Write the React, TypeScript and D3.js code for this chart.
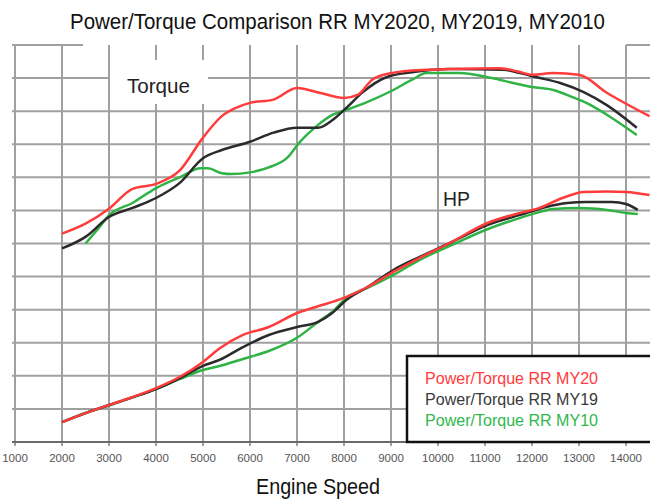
import * as d3 from "d3";
import React, { useRef, useEffect } from "react";

const WIDTH = 650;
const HEIGHT = 502;

// x ticks (rpm)
const rpmTicks = [1000, 2000, 3000, 4000, 5000, 6000, 7000, 8000, 9000, 10000, 11000, 12000, 13000, 14000];

// torque curves [rpm, value]
const torqueMY20 = [
	[2000, 126], [2500, 132], [3000, 141], [3500, 153], [4000, 156], [4500, 164], [5000, 184], [5400, 197],
	[5700, 202], [6000, 205], [6500, 207], [7000, 214], [7500, 211], [8000, 208], [8300, 210], [8600, 219],
	[9000, 223], [9750, 225], [10250, 225.5], [11300, 226], [11700, 224], [12000, 222], [12450, 223],
	[13000, 222], [13600, 211], [14500, 197],
];
const torqueMY19 = [
	[2000, 117], [2500, 124], [3000, 136], [3500, 141.5], [4000, 147.5], [4500, 156.5], [5000, 171.5],
	[5400, 176.5], [6000, 181.5], [6500, 187], [7000, 190], [7450, 190], [7750, 194.5], [8050, 202],
	[8400, 211.5], [8900, 220.5], [9450, 223.5], [10250, 225.5], [11400, 225], [11750, 223], [12100, 220.5],
	[12600, 217], [13100, 211.5], [13600, 203.5], [14230, 190],
];
const torqueMY10 = [
	[2500, 120], [2800, 130], [3000, 137], [3500, 144.5], [4000, 153.5], [4500, 160], [4950, 165.5],
	[5100, 165.5], [5400, 162.5], [5600, 162], [6000, 163], [6400, 166], [6800, 172], [7050, 181],
	[7400, 190.5], [7750, 197.7], [8050, 200.7], [8500, 205.6], [9050, 212.8], [9450, 219], [9750, 223],
	[10450, 223], [11150, 220], [11600, 217], [12000, 214.6], [12450, 212.8], [12850, 208.6], [13250, 203.7],
	[13600, 197.7], [14230, 185.6],
];

// power curves [rpm, value]
const hpMY20 = [
	[2000, 12], [2500, 17.5], [3000, 22.4], [3500, 27.2], [4000, 32.6], [4500, 39.3], [5000, 48.4],
	[5350, 56.5], [5850, 64.7], [6400, 69.5], [7000, 78], [7400, 81.6], [8000, 87.1], [8500, 93.7],
	[9050, 102.8], [9600, 111.2], [10250, 120.3], [11050, 132.4], [11750, 138.5], [12100, 140.9],
	[12650, 147.5], [13100, 151.2], [13600, 151.5], [14000, 151.2], [14500, 149.3],
];
const hpMY19 = [
	[2000, 12], [2500, 17.5], [3000, 22.4], [3500, 27], [4000, 32], [4500, 38.5], [5000, 46], [5350, 49.6],
	[5850, 57.4], [6400, 64.7], [7000, 69.5], [7450, 72.6], [7750, 78], [8050, 85.8], [8500, 93.7],
	[9050, 104], [9600, 111.8], [10250, 120.3], [11050, 131.2], [11750, 137.3], [12300, 142.1],
	[12750, 144.5], [13150, 145.1], [13700, 145.1], [14000, 143.9], [14250, 140.3],
];
const hpMY10 = [
	[2000, 12], [2500, 17.5], [3000, 22], [3500, 27], [4000, 32], [4500, 38], [5000, 43.5], [5350, 45.9],
	[5850, 50.2], [6400, 55], [7000, 63], [7450, 72.6], [7750, 78.6], [8050, 87.1], [8500, 93.1],
	[9050, 101], [9600, 110], [10250, 118.5], [11050, 128.6], [11750, 135.5], [12100, 138.5],
	[12450, 140.9], [13000, 141.5], [13600, 140.3], [14000, 138.5], [14250, 137.9],
];

const legendLabels = ["Power/Torque RR MY20", "Power/Torque RR MY19", "Power/Torque RR MY10"];
const legendColors = ["#ff3b3b", "#3a3a3a", "#2fb84e"];
const lineColors = ["#ff3c3c", "#2b2b2b", "#2fb344"];

const NARROW = "'Liberation Sans Narrow', 'Arial Narrow', 'Liberation Sans', Arial, sans-serif";
const SANS = "'Liberation Sans', Arial, sans-serif";

const App = () => {
	const svgRef = useRef();

	useEffect(() => {
		const svg = d3.select(svgRef.current);
		svg.selectAll("*").remove();

		const x = d3.scaleLinear().domain([2000, 14000]).range([62, 626]);
		const y = d3.scaleLinear().domain([0, 240]).range([442, 45]);
		const left = 12;
		const right = WIDTH;

		svg.append("rect").attr("width", WIDTH).attr("height", HEIGHT).attr("fill", "#fff");

		// horizontal grid
		const g = svg.append("g").attr("stroke", "#a0a0a0").attr("stroke-width", 2);
		d3.range(20, 240, 20).forEach((v) => {
			g.append("line").attr("x1", left).attr("x2", right).attr("y1", y(v)).attr("y2", y(v));
		});
		// top border, broken under the title
		g.append("line").attr("x1", left).attr("x2", 83).attr("y1", y(240)).attr("y2", y(240));
		g.append("line").attr("x1", x(14000)).attr("x2", right).attr("y1", y(240)).attr("y2", y(240));

		// vertical grid
		rpmTicks.forEach((r) => {
			g.append("line").attr("x1", x(r)).attr("x2", x(r)).attr("y1", y(240)).attr("y2", y(0) + 4);
		});

		// x axis
		svg.append("line").attr("x1", left).attr("x2", right).attr("y1", y(0)).attr("y2", y(0)).attr("stroke", "#6a6a6a").attr("stroke-width", 2);

		svg
			.append("g")
			.selectAll("text")
			.data(rpmTicks)
			.join("text")
			.attr("x", (d) => x(d))
			.attr("y", 462)
			.attr("text-anchor", "middle")
			.attr("font-family", SANS)
			.attr("font-size", 11.5)
			.attr("fill", "#555")
			.text((d) => d);

		// torque label box
		svg.append("rect").attr("x", 110).attr("y", 60).attr("width", 98).attr("height", 44).attr("fill", "#fff");
		svg.append("text").attr("x", 127).attr("y", 93).attr("font-family", SANS).attr("font-size", 21).attr("fill", "#222").attr("textLength", 63).attr("lengthAdjust", "spacingAndGlyphs").text("Torque");
		svg.append("text").attr("x", 443).attr("y", 206).attr("font-family", SANS).attr("font-size", 21).attr("fill", "#222").attr("textLength", 27).attr("lengthAdjust", "spacingAndGlyphs").text("HP");

		const line = d3
			.line()
			.x((d) => x(d[0]))
			.y((d) => y(d[1]))
			.curve(d3.curveMonotoneX);

		const series = [
			[torqueMY10, 2],
			[hpMY10, 2],
			[torqueMY19, 1],
			[hpMY19, 1],
			[torqueMY20, 0],
			[hpMY20, 0],
		];
		series.forEach(([data, c]) => {
			svg.append("path").datum(data).attr("fill", "none").attr("stroke", lineColors[c]).attr("stroke-width", 2.5).attr("stroke-linejoin", "round").attr("d", line);
		});

		// legend
		svg.append("rect").attr("x", 407).attr("y", 356).attr("width", 260).attr("height", y(0) - 356).attr("fill", "#fff").attr("stroke", "#111").attr("stroke-width", 2.5);
		legendLabels.forEach((t, i) => {
			svg
				.append("text")
				.attr("x", 425)
				.attr("y", 384 + i * 21)
				.attr("font-family", SANS)
				.attr("font-size", 16)
				.attr("fill", legendColors[i])
				.attr("textLength", 173)
				.attr("lengthAdjust", "spacingAndGlyphs")
				.text(t);
		});

		// titles
		svg.append("text").attr("x", 70).attr("y", 29).attr("font-family", NARROW).attr("font-size", 22).attr("fill", "#111").attr("textLength", 535).attr("lengthAdjust", "spacingAndGlyphs").text("Power/Torque Comparison RR MY2020, MY2019, MY2010");
		svg.append("text").attr("x", 256).attr("y", 494).attr("font-family", NARROW).attr("font-size", 22).attr("fill", "#111").attr("textLength", 124).attr("lengthAdjust", "spacingAndGlyphs").text("Engine Speed");
	}, []);

	return <svg ref={svgRef} width={WIDTH} height={HEIGHT} viewBox={`0 0 ${WIDTH} ${HEIGHT}`} style={{ position: "absolute", left: 0, top: 0 }} />;
};

export default App;
